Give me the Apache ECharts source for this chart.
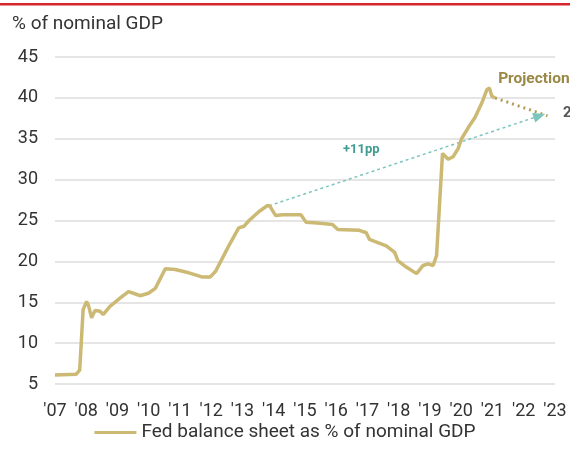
<!DOCTYPE html>
<html>
<head>
<meta charset="utf-8">
<script src="https://cdn.jsdelivr.net/npm/echarts@6/dist/echarts.min.js"></script>
<style>
  html, body { margin: 0; padding: 0; background: #fff; }
  #chart { width: 570px; height: 450px; }
</style>
</head>
<body>
<div id="chart"></div>
<script>
// Fed balance sheet as a share of nominal GDP (x in year-label units)
const years = [2007.0, 2007.68, 2007.79, 2007.90, 2008.01, 2008.08, 2008.17, 2008.28, 2008.44, 2008.54,
  2008.76, 2009.08, 2009.35, 2009.51, 2009.72, 2009.99, 2010.21, 2010.53, 2010.85, 2011.28,
  2011.70, 2011.97, 2012.14, 2012.56, 2012.88, 2013.05, 2013.21, 2013.53, 2013.79, 2013.87,
  2014.06, 2014.28, 2014.87, 2015.03, 2015.40, 2015.88, 2016.05, 2016.74, 2016.96, 2017.06,
  2017.60, 2017.87, 2017.97, 2018.24, 2018.57, 2018.78, 2018.94, 2019.10, 2019.21, 2019.40,
  2019.58, 2019.74, 2019.90, 2020.01, 2020.23, 2020.44, 2020.66, 2020.82, 2020.90, 2020.98, 2021.08];
const values = [6.1, 6.2, 6.7, 14.1, 15.1, 14.5, 13.1, 14.0, 13.9, 13.5,
  14.5, 15.5, 16.3, 16.1, 15.8, 16.1, 16.7, 19.1, 19.0, 18.6,
  18.1, 18.1, 18.8, 21.9, 24.1, 24.3, 25.0, 26.1, 26.8, 26.8,
  25.6, 25.7, 25.7, 24.8, 24.7, 24.5, 23.9, 23.8, 23.5, 22.7,
  21.9, 21.1, 20.1, 19.3, 18.5, 19.5, 19.7, 19.5, 20.7, 33.2,
  32.5, 32.8, 33.8, 35.0, 36.4, 37.6, 39.4, 41.0, 41.2, 40.2, 40.0];

// Projected path after the 2021 peak
const projYears = [2021.08, 2022.76];
const projValues = [40.0, 37.8];

// Arrow from the 2014 peak showing the +11pp rise
const arrowYears = [2013.85, 2022.5];
const arrowValues = [26.8, 37.8];

const yTicks = [5, 10, 15, 20, 25, 30, 35, 40, 45];
const xTickYears = [2007, 2008, 2009, 2010, 2011, 2012, 2013, 2014, 2015, 2016, 2017, 2018, 2019, 2020, 2021, 2022, 2023];

const seriesName = 'Fed balance sheet as % of nominal GDP';
const FONT = 'Roboto, "Noto Sans", sans-serif';

const chart = echarts.init(document.getElementById('chart'), null, { renderer: 'canvas' });

chart.setOption({
  animation: false,
  backgroundColor: '#fff',
  textStyle: { fontFamily: FONT },
  graphic: [
    { type: 'rect', left: 0, top: 3, shape: { width: 570, height: 2.5 }, style: { fill: '#d7262c' } },
    { type: 'text', left: 12, top: 15, style: { text: '% of nominal GDP', fill: '#333', font: '19px ' + FONT } },
    { type: 'text', left: 563, top: 106, style: { text: '2', fill: '#555', font: 'bold 15px ' + FONT } }
  ],
  grid: { left: 55, right: 15, top: 57, bottom: 66, containLabel: false },
  xAxis: {
    type: 'value',
    min: xTickYears[0],
    max: xTickYears[xTickYears.length - 1],
    interval: 1,
    axisLine: { show: false },
    axisTick: { show: false },
    splitLine: { show: false },
    axisLabel: {
      color: '#333', fontSize: 18, margin: 18, fontFamily: FONT,
      showMinLabel: true, showMaxLabel: true,
      formatter: v => "'" + String(v).slice(2)
    }
  },
  yAxis: {
    type: 'value',
    min: yTicks[0],
    max: yTicks[yTicks.length - 1],
    interval: 5,
    axisLine: { show: false },
    axisTick: { show: false },
    axisLabel: { color: '#333', fontSize: 18, margin: 17, fontFamily: FONT },
    splitLine: { lineStyle: { color: '#dcdcdc', width: 1.5 } }
  },
  legend: {
    bottom: 3,
    left: 'center',
    icon: 'rect',
    itemWidth: 42,
    itemHeight: 3,
    itemGap: 6,
    data: [seriesName],
    textStyle: { color: '#333', fontSize: 19, fontFamily: FONT }
  },
  series: [
    {
      name: 'arrow',
      type: 'line',
      data: [],
      silent: true,
      markLine: {
        silent: true,
        symbol: ['none', 'triangle'],
        symbolSize: [10, 12],
        label: { show: false },
        lineStyle: { color: '#7cc5bd', type: [3, 3], width: 1.5 },
        data: [[
          { coord: [arrowYears[0], arrowValues[0]] },
          { coord: [arrowYears[1], arrowValues[1]] }
        ]]
      },
      markPoint: {
        symbol: 'circle',
        symbolSize: 0,
        label: {
          show: true, color: '#3f9c90', fontWeight: 'bold', fontSize: 13, fontFamily: FONT,
          formatter: '{b}'
        },
        data: [{ name: '+11pp', coord: [2016.8, 33.6] }]
      }
    },
    {
      name: 'projection',
      type: 'line',
      data: projYears.map((x, i) => [x, projValues[i]]),
      showSymbol: false,
      silent: true,
      lineStyle: { color: '#b29c58', width: 3, type: [2, 4] },
      markPoint: {
        symbol: 'circle',
        symbolSize: 0,
        label: {
          show: true, color: '#9a8845', fontWeight: 'bold', fontSize: 15.5, fontFamily: FONT,
          align: 'left', formatter: '{b}'
        },
        data: [{ name: 'Projection', coord: [2021.18, 42.3] }]
      }
    },
    {
      name: seriesName,
      type: 'line',
      data: years.map((x, i) => [x, values[i]]),
      showSymbol: false,
      itemStyle: { color: '#cbb974' },
      lineStyle: { color: '#cbb974', width: 3.5 },
      z: 5
    }
  ]
});
</script>
</body>
</html>
